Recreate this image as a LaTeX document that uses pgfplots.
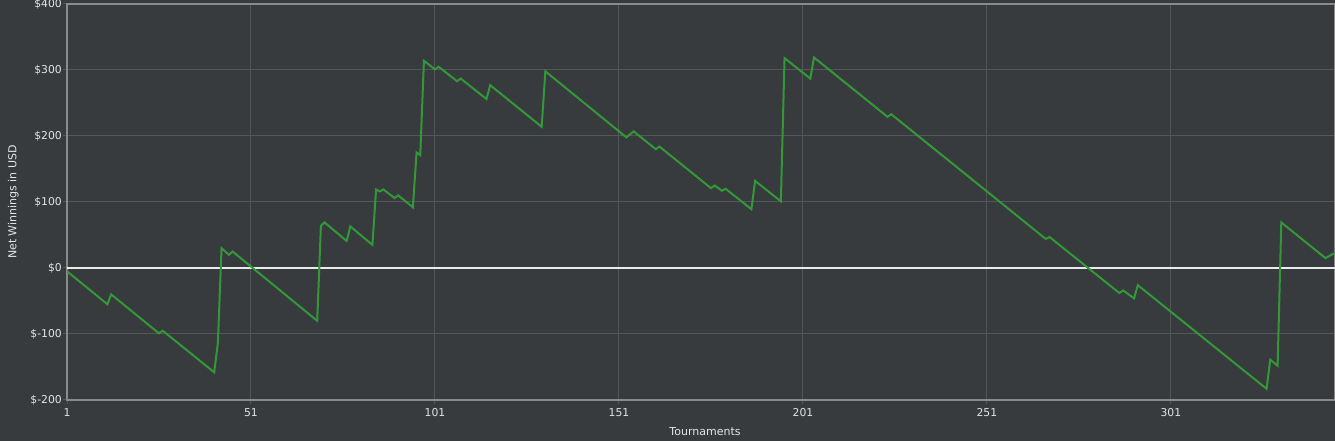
\documentclass[border=0pt]{standalone}
\usepackage{fontspec}
\setmainfont{DejaVu Sans}
\usepackage{pgfplots}
\pgfplotsset{compat=1.18}
\definecolor{bg}{RGB}{56,59,62}
\definecolor{gridc}{RGB}{84,87,90}
\definecolor{framec}{RGB}{138,138,138}
\definecolor{linec}{RGB}{50,152,56}
\definecolor{txt}{RGB}{228,228,228}
\definecolor{zeroc}{RGB}{235,235,235}
\begin{document}
\begin{tikzpicture}
\fill[bg] (0,0) rectangle (1335pt,441pt);
\begin{axis}[
  at={(67pt,41pt)}, anchor=south west,
  width=1268pt, height=396pt, scale only axis,
  xmin=1, xmax=345.6, ymin=-200, ymax=400,
  xtick={1,51,101,151,201,251,301},
  xticklabels={1,51,101,151,201,251,301},
  ytick={-200,-100,0,100,200,300,400},
  yticklabels={\$-200,\$-100,\$0,\$100,\$200,\$300,\$400},
  grid=major, major grid style={gridc, line width=1pt},
  axis line style={framec, line width=1.6pt},
  tick align=outside, tick pos=left, major tick length=4pt,
  tick style={gridc, line width=1pt},
  ticklabel style={font=\fontsize{10.8}{12}\selectfont, text=txt},
  xticklabel style={anchor=north, inner sep=0pt, yshift=-4pt},
  yticklabel style={anchor=east, inner sep=0pt, xshift=-1pt},
  xlabel={Tournaments}, ylabel={Net Winnings in USD},
  every axis x label/.style={at={(axis description cs:0.5,0)}, anchor=base, yshift=-36pt, xshift=4pt, font=\fontsize{11}{13}\selectfont, text=txt},
  every axis y label/.style={at={(axis description cs:0,0.5)}, xshift=-50.5pt, rotate=90, anchor=base, font=\fontsize{11}{13}\selectfont, text=txt},
]
\addplot[zeroc, line width=2.6pt, forget plot] coordinates {(1,0) (345.6,0)};
\addplot[linec, line width=2pt, line join=miter] coordinates {
(1,-5) (12,-55) (13,-40) (26,-99) (27,-95) (41,-158) (42,-114) (43,30) (45,20) (46,25)
(69,-80) (70,64) (71,69) (77,41) (78,63) (84,35) (85,119) (86,116) (87,119) (90,106)
(91,110) (95,92) (96,175) (97,171) (98,314) (101,301) (102,305) (107,283) (108,287)
(115,256) (116,277) (130,214) (131,298) (153,198) (155,207) (161,180) (162,184)
(176,121) (177,125) (179,117) (180,120) (187,89) (188,132) (195,101) (196,318)
(203,287) (204,319) (224,229) (225,233) (267,44) (268,47) (287,-38) (288,-34)
(291,-46) (292,-26) (327,-183) (328,-139) (330,-148) (331,69) (343,15) (345.6,23)
};
\end{axis}
\pgfresetboundingbox
\useasboundingbox (0,0) rectangle (1335pt,441pt);
\end{tikzpicture}
\end{document}
